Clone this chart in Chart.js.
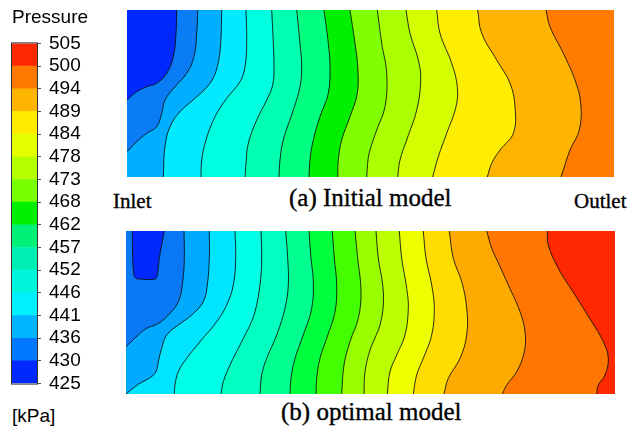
<!DOCTYPE html>
<html>
<head>
<meta charset="utf-8">
<title>Pressure contours</title>
<script src="https://cdn.jsdelivr.net/npm/chart.js@4.4.1/dist/chart.umd.min.js"></script>
<style>
  html, body { margin: 0; padding: 0; background: #fff; }
  #page { position: relative; width: 634px; height: 432px; overflow: hidden; }
  canvas { position: absolute; }
  .t { position: absolute; white-space: nowrap; line-height: 1; color: #000; }
  .sans { font-family: 'Liberation Sans', Arial, sans-serif; font-size: 19px; }
  .serif { font-family: 'Liberation Serif', 'Times New Roman', serif; -webkit-text-stroke: 0.35px #000; }
</style>
</head>
<body>
<div id="page">
  <canvas id="colorbar" width="74" height="379" style="left:8px;top:24px"></canvas>
  <canvas id="panelA" width="487" height="167" style="left:127px;top:10px"></canvas>
  <canvas id="panelB" width="489" height="163" style="left:126px;top:231px"></canvas>
  <div class="t sans" style="left:12px;top:7px">Pressure</div>
  <div class="t sans" style="left:12px;top:406px">[kPa]</div>
  <div class="t serif" style="left:113px;top:191px;font-size:21px">Inlet</div>
  <div class="t serif" style="left:574px;top:191px;font-size:21px">Outlet</div>
  <div class="t serif" style="left:289px;top:185px;font-size:25px">(a) Initial model</div>
  <div class="t serif" style="left:281px;top:399px;font-size:25px">(b) optimal model</div>
</div>
<script>
// Colour bar: contour levels in kPa and the colour of each band (bottom to top)
const levelLabels = ['425','430','436','441','446','452','457','462','468','473','478','484','489','494','500','505'];
const barColors = ['#0028ff','#0078ff','#00b4ff','#00f0ff','#00f5dc','#00f0b4','#00f078','#00f000',
                   '#78ff00','#b4ff00','#e6ff00','#ffeb00','#ffb400','#ff7800','#ff2800'];

// Panel (a), initial model. Domain: x along the channel, y across it (0 = bottom wall).
const widthA = 487, heightA = 167;
// Iso-pressure lines, each traced from the top wall downwards (430 ... 494 kPa)
const contoursA = [
  [[49.7,167],[49,143.7],[46.3,120.3],[39.7,103.7],[29.7,93.7],[19.7,90.3],[9.7,85.3],[0,77]],
  [[70.7,167],[69.7,143.7],[67,120.3],[59.7,103.7],[48,90.3],[38,77],[34.7,63.7],[29.7,50.3],[19.7,43.7],[9.7,35.3],[0,25.3]],
  [[94.7,167],[93.7,133.7],[90.3,110.3],[83,93.7],[68,78.7],[53,65.3],[43,50.3],[38,30.3],[36.3,0]],
  [[119,167],[119.7,133.7],[118,110.3],[113,95.3],[99.7,78.7],[88,60.3],[79,37],[74.7,17],[74,0]],
  [[144.7,167],[146.3,133.7],[147,110.3],[145.7,92],[139.7,77],[129.7,57],[121.3,33.7],[119,13.7],[118,0]],
  [[169.7,167],[173,133.7],[174.7,110.3],[173,90.3],[166.3,67],[156.3,37],[153,17],[152,0]],
  [[197,167],[201.3,133.7],[203,110.3],[201.3,83.7],[193,60.3],[186.3,37],[183,17],[182,0]],
  [[223,167],[228,133.7],[230.7,110.3],[230.3,83.7],[223,60.3],[214.7,37],[211.3,17],[210.7,0]],
  [[250.3,167],[254.7,133.7],[259.7,103.7],[258,70.3],[249.7,47],[243,27],[241,17],[239.7,0]],
  [[279,167],[283,143.7],[291.3,117],[293.7,97],[289.7,67],[279.7,37],[273,17],[270.7,0]],
  [[309.7,167],[313,143.7],[324.7,113.7],[330.3,90.3],[329,70.3],[319.7,43.7],[311.3,20.3],[305.7,0]],
  [[350.7,167],[354.7,143.7],[369.7,117],[383,93.7],[388,70.3],[386.3,43.7],[373,27],[364.7,13.7],[360.3,0]],
  [[419,167],[423,150.3],[436.3,123.7],[448,97],[453.7,73.7],[452.3,47],[443,27],[436.3,7],[434,0]]
];
// Band colours from the inlet side to the outlet side
const bandColorsA = ['#0028ff','#0a7cf5','#00aeff','#00ebff','#00ffe0','#00ffb0','#00ff80','#00f000',
                     '#80ff00','#aaff00','#d4ff00','#ffee00','#ffb400','#ff7c00'];

// Panel (b), optimal model
const widthB = 489, heightB = 163;
// Closed low-pressure pocket beside the inlet (starts and ends on the top wall)
const pocketB = [[6.3,163],[6.7,135.7],[8,119],[10,115.7],[14,115],[29,115],[31.3,119],[33.3,135.7],[35.7,149],[38.3,163]];
const pocketColorB = '#0028ff';
const contoursB = [
  [[58,163],[58.3,135.7],[56.7,112.3],[52.3,92.3],[40.7,77.3],[30.7,69.7],[20.7,65.7],[12.3,59],[0,47.3]],
  [[83.3,163],[83.3,135.7],[81.3,109],[77.3,92.3],[65.7,79],[52.3,69],[40.7,59],[35.7,45.7],[32.3,32.3],[30,22.3],[24,16.3],[12.3,9.7],[0,0]],
  [[109,163],[109.7,135.7],[107.3,109],[100.7,89],[90.7,72.3],[74,52.3],[60.7,35.7],[52.3,22.3],[49,9],[48.3,0]],
  [[135,163],[135.7,135.7],[134,109],[129,82.3],[124,69],[119,59],[114,49],[104,29],[97.3,12.3],[95,0]],
  [[159.7,163],[161.7,135.7],[162.3,109],[159,85.7],[150.7,59],[140.7,35.7],[135.7,19],[134,0]],
  [[183,163],[185,135.7],[187.3,112.3],[185.7,85.7],[177.3,59],[169,35.7],[165,15.7],[164,0]],
  [[206.3,163],[208.3,135.7],[210.7,109],[209,82.3],[200.7,55.7],[194,35.7],[190.7,15.7],[190,0]],
  [[229,163],[231.7,135.7],[235,102.3],[232.3,75.7],[224,52.3],[218,29],[215.7,0]],
  [[250,163],[252.3,135.7],[256.7,109],[257.3,89],[254,69],[249,56],[244,44],[239,22.3],[238,0]],
  [[273.3,163],[275.7,135.7],[280.7,105.7],[282.3,85.7],[279,59],[270.7,39],[264,22.3],[261.3,0]],
  [[297.3,163],[300,135.7],[305.7,109],[308.3,85.7],[305.7,59],[297.3,35.7],[290.7,19],[287.3,0]],
  [[323.3,163],[327.3,135.7],[335.7,112.3],[340.7,85.7],[340.7,59],[334,35.7],[322.3,15.7],[318,0]],
  [[360.7,163],[365.7,145.7],[371,134],[382.3,109],[394,82.3],[399,62.3],[398.3,42.3],[390.7,22.3],[380.7,9],[376.3,0]],
  [[421.3,163],[422.3,149],[432.3,125.7],[449,99],[465.7,72.3],[477.3,52.3],[482.3,35.7],[479,19],[472.3,9],[470.7,0]]
];
const bandColorsB = ['#0a78f5','#00aaff','#00e5ff','#00ffe6','#00ffc0','#00ff90','#00ff3c','#44ff00',
                     '#99ff00','#bbff00','#eeff00','#ffdd00','#ffaa00','#ff7700','#ff2800'];

const LINE_COLOR = 'rgba(10,10,10,0.85)';
const TENSION = 0.4;

function toPoints(arr) { return arr.map(([x, y]) => ({ x, y })); }

// Region lying downstream of an iso-line: the line itself, then round the domain corners.
// Repeated vertices keep the spline from rounding the corners off.
function downstreamRegion(curve, W, H) {
  const pts = toPoints(curve);
  const [ex, ey] = curve[curve.length - 1];
  pts.push({ x: ex, y: ey });
  const corners = (ex <= 0 && ey > 0) ? [[0, 0], [W, 0], [W, H]] : [[W, 0], [W, H]];
  corners.forEach(([x, y]) => { pts.push({ x, y }); pts.push({ x, y }); });
  return pts;
}

function panelDatasets(W, H, contours, colors, pockets) {
  const sets = [];
  let order = 1000;
  const area = { showLine: true, fill: 'shape', borderWidth: 0, borderColor: 'rgba(0,0,0,0)' };
  sets.push(Object.assign({ data: toPoints([[0, 0], [W, 0], [W, H], [0, H]]), backgroundColor: colors[0], tension: 0, order: order-- }, area));
  contours.forEach((c, i) => {
    sets.push(Object.assign({ data: downstreamRegion(c, W, H), backgroundColor: colors[i + 1], tension: TENSION, order: order-- }, area));
  });
  pockets.forEach(p => {
    sets.push(Object.assign({ data: toPoints(p.curve), backgroundColor: p.color, tension: TENSION, order: order-- }, area));
  });
  contours.concat(pockets.map(p => p.curve)).forEach(c => {
    sets.push({ data: toPoints(c), showLine: true, fill: false, borderColor: LINE_COLOR, borderWidth: 1, tension: TENSION, order: 0 });
  });
  return sets;
}

function contourChart(id, W, H, contours, colors, pockets) {
  return new Chart(document.getElementById(id), {
    type: 'scatter',
    data: { datasets: panelDatasets(W, H, contours, colors, pockets) },
    options: {
      responsive: false, animation: false, events: [], devicePixelRatio: 1,
      layout: { padding: 0 },
      elements: { point: { radius: 0, hoverRadius: 0 } },
      plugins: { legend: { display: false }, tooltip: { enabled: false } },
      scales: {
        x: { type: 'linear', min: 0, max: W, display: false },
        y: { type: 'linear', min: 0, max: H, display: false }
      }
    }
  });
}

contourChart('panelA', widthA, heightA, contoursA, bandColorsA, []);
contourChart('panelB', widthB, heightB, contoursB, bandColorsB, [{ curve: pocketB, color: pocketColorB }]);

// Colour bar as a stack of unit bars, one per pressure band
const outline = {
  id: 'outline',
  afterDatasetsDraw(chart) {
    const { ctx, chartArea: a } = chart;
    ctx.save();
    ctx.strokeStyle = '#333';
    ctx.lineWidth = 1;
    ctx.strokeRect(a.left - 0.5, a.top - 0.5, a.right - a.left + 1, a.bottom - a.top + 1);
    ctx.restore();
  }
};

new Chart(document.getElementById('colorbar'), {
  type: 'bar',
  data: {
    labels: [''],
    datasets: barColors.map(c => ({ data: [1], backgroundColor: c, borderWidth: 0, barPercentage: 1, categoryPercentage: 1 }))
  },
  options: {
    responsive: false, animation: false, events: [], devicePixelRatio: 1,
    layout: { padding: { left: 4, top: 14, bottom: 14, right: 0 } },
    plugins: { legend: { display: false }, tooltip: { enabled: false } },
    scales: {
      x: { stacked: true, display: false },
      y: {
        stacked: true, position: 'right', min: 0, max: levelLabels.length - 1,
        afterBuildTicks: s => { s.ticks = levelLabels.map((_, i) => ({ value: i })); },
        afterFit: s => { s.width = 45; },
        ticks: {
          autoSkip: false, padding: 8, color: '#000',
          font: { family: "'Liberation Sans', Arial, sans-serif", size: 19 },
          callback: v => levelLabels[v]
        },
        grid: { drawOnChartArea: false, tickLength: 4, color: '#555', lineWidth: 1 },
        border: { display: false }
      }
    }
  },
  plugins: [outline]
});
</script>
</body>
</html>
